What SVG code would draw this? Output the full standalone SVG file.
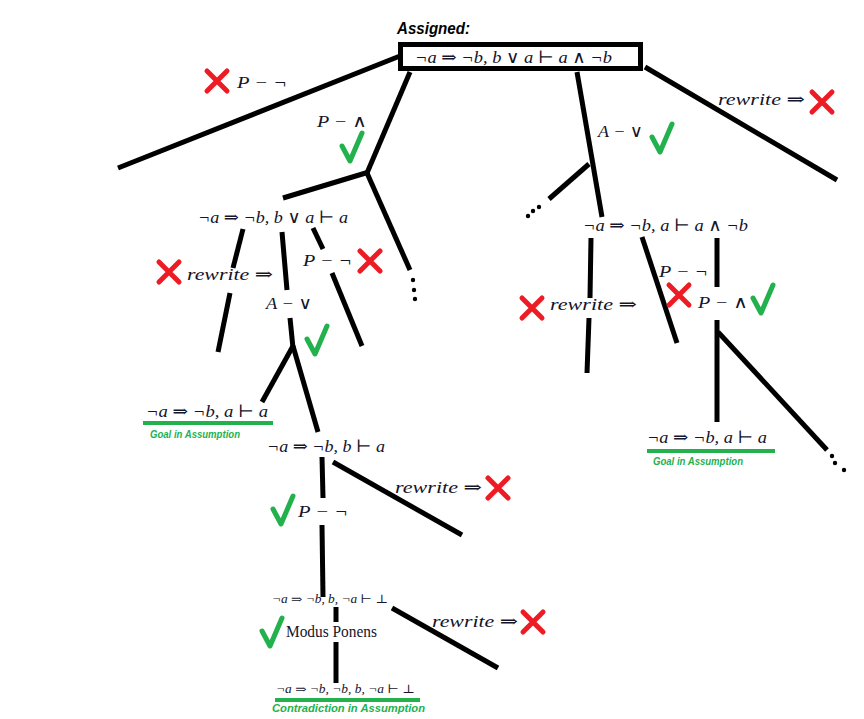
<svg xmlns="http://www.w3.org/2000/svg" xmlns:xlink="http://www.w3.org/1999/xlink" width="864" height="719" viewBox="0 0 864 719">
<style>
.m{font-family:"Liberation Serif","DejaVu Serif",serif;font-style:italic;font-size:17px;fill:#14142a}
.s{font-size:12px}
.u{font-style:normal}
.g{font-family:"Liberation Sans","DejaVu Sans",sans-serif;font-style:italic;font-weight:bold;fill:#22b14c;font-size:10px}
.a{font-family:"Liberation Sans","DejaVu Sans",sans-serif;font-style:italic;font-weight:bold;fill:#000;font-size:16px}
.e line,.e path{stroke:#000;stroke-width:5;fill:none}
.ul{stroke:#22b14c;stroke-width:4}
</style>
<defs>
<path id="chk" d="M0,13 L8,28 L20,0" stroke="#22b14c" stroke-width="5" fill="none" stroke-linecap="round" stroke-linejoin="round"/>
<path id="x" d="M-10,-10 L10,10 M10,-10 L-10,10" stroke="#ed1c24" stroke-width="5" fill="none" stroke-linecap="round"/>
</defs>
<rect width="864" height="719" fill="#fff"/>
<g id="connectors" class="e">
<line x1="400" y1="56" x2="118" y2="168"/>
<line x1="410" y1="72" x2="367" y2="173"/>
<line x1="369" y1="172" x2="283" y2="198"/>
<line x1="367" y1="173" x2="410" y2="270"/>
<line x1="243" y1="229" x2="233" y2="268"/>
<line x1="230" y1="293" x2="218" y2="352"/>
<line x1="282" y1="232" x2="287" y2="290"/>
<line x1="290" y1="318" x2="293" y2="348"/>
<line x1="293" y1="346" x2="262" y2="402"/>
<line x1="293" y1="346" x2="318" y2="432"/>
<line x1="313" y1="228" x2="323" y2="249"/>
<line x1="332" y1="273" x2="362" y2="346"/>
<line x1="322" y1="457" x2="323" y2="498"/>
<line x1="322" y1="525" x2="323" y2="597"/>
<line x1="333" y1="462" x2="462" y2="535"/>
<line x1="336" y1="607" x2="336" y2="622"/>
<line x1="336" y1="642" x2="336" y2="683"/>
<line x1="392" y1="608" x2="498" y2="668"/>
<line x1="577" y1="72" x2="602" y2="217"/>
<line x1="589" y1="164" x2="549" y2="199"/>
<line x1="645" y1="67" x2="837" y2="180"/>
<line x1="591" y1="238" x2="590" y2="298"/>
<line x1="589" y1="318" x2="587" y2="373"/>
<line x1="642" y1="237" x2="677" y2="343"/>
<line x1="717" y1="238" x2="717" y2="287"/>
<line x1="717" y1="320" x2="717" y2="422"/>
<line x1="718" y1="332" x2="827" y2="450"/>
<g fill="#000">
<circle cx="413" cy="280" r="2.2"/><circle cx="414" cy="290" r="2.2"/><circle cx="415" cy="299" r="2.2"/>
<circle cx="539" cy="207" r="2.2"/><circle cx="533" cy="211" r="2.2"/><circle cx="528" cy="216" r="2.2"/>
<circle cx="832" cy="456" r="2.2"/><circle cx="835" cy="463" r="2.2"/><circle cx="844" cy="470" r="2.2"/>
</g>
</g>
<g id="root">
<text class="a" x="397" y="34" textLength="73" lengthAdjust="spacingAndGlyphs">Assigned:</text>
<rect x="400.5" y="44.5" width="240" height="24" fill="#fff" stroke="#000" stroke-width="5"/>
<text class="m" x="415" y="63" textLength="197" lengthAdjust="spacingAndGlyphs">¬a ⇒ ¬b, b ∨ a ⊢ a ∧ ¬b</text>
</g>
<g id="rule-left-pneg">
<use xlink:href="#x" x="217" y="81"/>
<text class="m" x="237" y="88" textLength="50" lengthAdjust="spacingAndGlyphs">P − ¬</text>
</g>
<g id="rule-pand">
<text class="m" x="317" y="127" textLength="50" lengthAdjust="spacingAndGlyphs">P − ∧</text>
<use xlink:href="#chk" x="342" y="133"/>
</g>
<g id="rule-rewrite-top">
<text class="m" x="718" y="105" textLength="87" lengthAdjust="spacingAndGlyphs">rewrite ⇒</text>
<use xlink:href="#x" x="822" y="102"/>
</g>
<g id="rule-aor-top">
<text class="m" x="598" y="137" textLength="45" lengthAdjust="spacingAndGlyphs">A − ∨</text>
<use xlink:href="#chk" x="652" y="124"/>
</g>
<g id="node-left">
<text class="m" x="198" y="223" textLength="150" lengthAdjust="spacingAndGlyphs">¬a ⇒ ¬b, b ∨ a ⊢ a</text>
</g>
<g id="rule-rewrite-l">
<use xlink:href="#x" x="169" y="272"/>
<text class="m" x="187" y="280" textLength="86" lengthAdjust="spacingAndGlyphs">rewrite ⇒</text>
</g>
<g id="rule-pneg-l">
<text class="m" x="303" y="266" textLength="49" lengthAdjust="spacingAndGlyphs">P − ¬</text>
<use xlink:href="#x" x="370" y="261"/>
</g>
<g id="rule-aor-l">
<text class="m" x="266" y="309" textLength="46" lengthAdjust="spacingAndGlyphs">A − ∨</text>
<use xlink:href="#chk" x="307" y="326"/>
</g>
<g id="node-goal-left">
<text class="m" x="146" y="417" textLength="122" lengthAdjust="spacingAndGlyphs">¬a ⇒ ¬b, a ⊢ a</text>
<line class="ul" x1="143" y1="423" x2="273" y2="423"/>
<text class="g" x="150" y="438" textLength="90" lengthAdjust="spacingAndGlyphs">Goal in Assumption</text>
</g>
<g id="node-b">
<text class="m" x="267" y="452" textLength="118" lengthAdjust="spacingAndGlyphs">¬a ⇒ ¬b, b ⊢ a</text>
</g>
<g id="rule-rewrite-b">
<text class="m" x="395" y="493" textLength="87" lengthAdjust="spacingAndGlyphs">rewrite ⇒</text>
<use xlink:href="#x" x="498" y="488"/>
</g>
<g id="rule-pneg-b">
<use xlink:href="#chk" x="273" y="496"/>
<text class="m" x="298" y="517" textLength="50" lengthAdjust="spacingAndGlyphs">P − ¬</text>
</g>
<g id="node-bot">
<text class="m s" x="272" y="603" textLength="116" lengthAdjust="spacingAndGlyphs">¬a ⇒ ¬b, b, ¬a ⊢ ⊥</text>
</g>
<g id="rule-mp">
<use xlink:href="#chk" x="262" y="618"/>
<text class="m u" x="286" y="637" font-size="14" textLength="91" lengthAdjust="spacingAndGlyphs">Modus Ponens</text>
</g>
<g id="rule-rewrite-bot">
<text class="m" x="432" y="627" textLength="86" lengthAdjust="spacingAndGlyphs">rewrite ⇒</text>
<use xlink:href="#x" x="533" y="622"/>
</g>
<g id="node-contra">
<text class="m s" x="276" y="693" textLength="139" lengthAdjust="spacingAndGlyphs">¬a ⇒ ¬b, ¬b, b, ¬a ⊢ ⊥</text>
<line class="ul" x1="275" y1="700" x2="420" y2="700"/>
<text class="g" x="272" y="712" font-size="11" textLength="153" lengthAdjust="spacingAndGlyphs">Contradiction in Assumption</text>
</g>
<g id="node-right">
<text class="m" x="583" y="231" textLength="165" lengthAdjust="spacingAndGlyphs">¬a ⇒ ¬b, a ⊢ a ∧ ¬b</text>
</g>
<g id="rule-rewrite-r">
<use xlink:href="#x" x="532" y="308"/>
<text class="m" x="550" y="310" textLength="87" lengthAdjust="spacingAndGlyphs">rewrite ⇒</text>
</g>
<g id="rule-pneg-r">
<text class="m" x="659" y="277" textLength="49" lengthAdjust="spacingAndGlyphs">P − ¬</text>
<use xlink:href="#x" x="679" y="295"/>
</g>
<g id="rule-pand-r">
<text class="m" x="698" y="308" textLength="50" lengthAdjust="spacingAndGlyphs">P − ∧</text>
<use xlink:href="#chk" x="753" y="285"/>
</g>
<g id="node-goal-right">
<text class="m" x="647" y="443" textLength="120" lengthAdjust="spacingAndGlyphs">¬a ⇒ ¬b, a ⊢ a</text>
<line class="ul" x1="647" y1="451" x2="775" y2="451"/>
<text class="g" x="653" y="465" textLength="90" lengthAdjust="spacingAndGlyphs">Goal in Assumption</text>
</g>
</svg>
